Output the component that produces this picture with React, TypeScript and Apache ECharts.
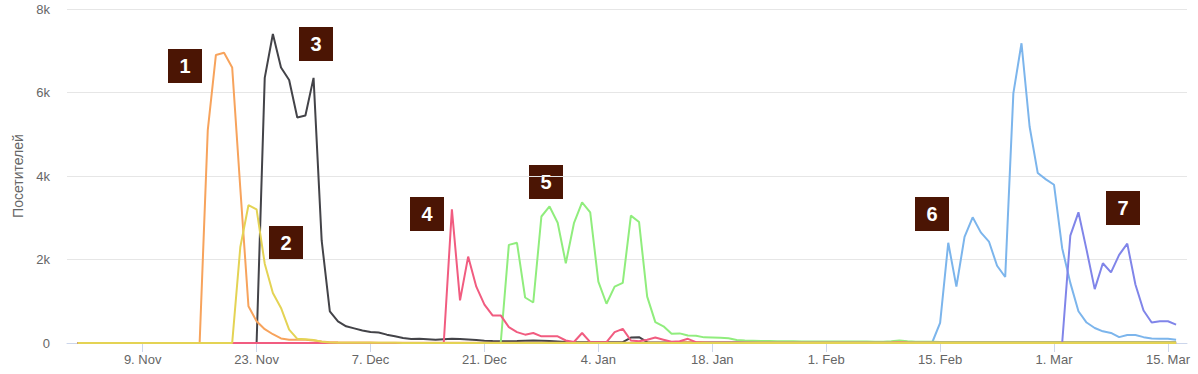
import React, { useEffect, useRef } from "react";
import * as echarts from "echarts";

// Day index 0 = 1. Nov, 135 = 16. Mar (daily values)
const tickDayIndex = [8, 22, 36, 50, 64, 78, 92, 106, 120, 134];
const tickLabels = ["9. Nov", "23. Nov", "7. Dec", "21. Dec", "4. Jan", "18. Jan", "1. Feb", "15. Feb", "1. Mar", "15. Mar"];
const yTicks = [0, 2000, 4000, 6000, 8000];
const yTickLabels = ["0", "2k", "4k", "6k", "8k"];

const series1 = [
  0, 0, 0, 0, 0, 0, 0, 0, 0, 0,
  0, 0, 0, 0, 0, 0, 5100, 6900, 6950, 6600,
  3700, 880, 520, 330, 210, 110, 80, 80, 75, 60,
  35, 20, 15, 12, 10, 10, 10, 8, 8, 8,
  8, 8, 6, 6, 6, 6, 6, 6, 6, 6,
  6, 6, 6, 6, 6, 6, 5, 5, 5, 5,
  5, 5, 5, 5, 5, 5, 5, 5, 5, 5,
  5, 5, 5, 5, 15, 20, 15, 10, 5, 5,
  5, 5, 5, 5, 5, 5, 5, 5, 5, 5,
  5, 5, 5, 5, 5, 5, 5, 5, 5, 5,
  10, 20, 10, 5, 5, 5, 5, 5, 5, 5,
  5, 5, 5, 5, 5, 5, 5, 5, 5, 5,
  5, 5, 5, 5, 5, 5, 5, 5, 5, 5,
  5, 5, 5, 5, 5, 5,
];
const series2 = [
  0, 0, 0, 0, 0, 0, 0, 0, 0, 0,
  0, 0, 0, 0, 0, 0, 0, 0, 0, 0,
  2300, 3300, 3200, 1900, 1200, 840, 320, 100, 90, 70,
  30, 10, 5, 5, 5, 5, 5, 5, 5, 5,
  0, 0, 0, 0, 0, 0, 0, 0, 0, 0,
  0, 0, 0, 0, 0, 0, 0, 0, 0, 0,
  0, 0, 0, 0, 0, 0, 0, 0, 0, 0,
  0, 0, 0, 0, 0, 0, 0, 0, 0, 0,
  0, 0, 0, 0, 0, 0, 0, 0, 0, 0,
  0, 0, 0, 0, 0, 0, 0, 0, 0, 0,
  0, 0, 0, 0, 0, 0, 0, 0, 0, 0,
  0, 0, 0, 0, 0, 0, 0, 0, 0, 0,
  0, 0, 0, 0, 0, 0, 0, 0, 0, 0,
  0, 0, 0, 0, 0, 0,
];
const series3 = [
  0, 0, 0, 0, 0, 0, 0, 0, 0, 0,
  0, 0, 0, 0, 0, 0, 0, 0, 0, 0,
  0, 0, 0, 6350, 7400, 6600, 6300, 5400, 5450, 6350,
  2450, 760, 520, 400, 350, 300, 265, 250, 200, 160,
  120, 95, 100, 90, 80, 90, 100, 95, 85, 70,
  55, 45, 40, 40, 45, 55, 60, 55, 45, 35,
  25, 20, 15, 15, 15, 15, 20, 20, 130, 140,
  20, 10, 10, 10, 10, 10, 10, 10, 10, 10,
  10, 10, 10, 10, 10, 10, 10, 10, 10, 10,
  10, 10, 10, 10, 10, 10, 10, 10, 10, 10,
  10, 10, 10, 10, 10, 10, 10, 10, 10, 10,
  10, 10, 10, 10, 10, 10, 10, 10, 10, 10,
  10, 10, 10, 10, 10, 10, 10, 10, 10, 10,
  10, 10, 10, 10, 10, 10,
];
const series4 = [
  0, 0, 0, 0, 0, 0, 0, 0, 0, 0,
  0, 0, 0, 0, 0, 0, 0, 0, 0, 0,
  0, 0, 0, 0, 0, 0, 0, 0, 0, 0,
  0, 0, 0, 0, 0, 0, 0, 0, 0, 0,
  0, 0, 0, 0, 0, 0, 3200, 1020, 2070, 1350,
  920, 660, 660, 380, 260, 200, 240, 160, 160, 160,
  60, 25, 240, 20, 20, 20, 260, 340, 60, 40,
  80, 130, 80, 30, 40, 100, 20, 5, 5, 5,
  5, 5, 5, 5, 5, 5, 5, 5, 5, 5,
  5, 5, 5, 5, 5, 5, 5, 5, 5, 5,
  5, 5, 5, 5, 5, 5, 5, 5, 5, 5,
  5, 5, 5, 5, 5, 5, 5, 5, 5, 5,
  5, 5, 5, 5, 5, 5, 5, 5, 5, 5,
  5, 5, 5, 5, 5, 5,
];
const series5 = [
  0, 0, 0, 0, 0, 0, 0, 0, 0, 0,
  0, 0, 0, 0, 0, 0, 0, 0, 0, 0,
  0, 0, 0, 0, 0, 0, 0, 0, 0, 0,
  0, 0, 0, 0, 0, 0, 0, 0, 0, 0,
  0, 0, 0, 0, 0, 0, 0, 0, 0, 0,
  0, 0, 0, 2350, 2400, 1090, 970, 3030, 3270, 2880,
  1910, 2870, 3370, 3130, 1470, 940, 1350, 1440, 3050, 2900,
  1110, 500, 400, 220, 230, 180, 175, 135, 130, 125,
  115, 70, 60, 55, 50, 45, 40, 40, 40, 38,
  38, 36, 35, 35, 35, 34, 33, 33, 32, 32,
  40, 60, 40, 30, 30, 28, 25, 25, 25, 25,
  25, 25, 25, 25, 25, 25, 25, 25, 25, 25,
  25, 25, 25, 25, 25, 25, 25, 25, 25, 25,
  25, 25, 25, 25, 25, 25,
];
const series6 = [
  0, 0, 0, 0, 0, 0, 0, 0, 0, 0,
  0, 0, 0, 0, 0, 0, 0, 0, 0, 0,
  0, 0, 0, 0, 0, 0, 0, 0, 0, 0,
  0, 0, 0, 0, 0, 0, 0, 0, 0, 0,
  0, 0, 0, 0, 0, 0, 0, 0, 0, 0,
  0, 0, 0, 0, 0, 0, 0, 0, 0, 0,
  0, 0, 0, 0, 0, 0, 0, 0, 0, 0,
  0, 0, 0, 0, 0, 0, 0, 0, 0, 0,
  0, 0, 0, 0, 0, 0, 0, 0, 0, 0,
  0, 0, 0, 0, 0, 0, 0, 0, 0, 0,
  0, 0, 0, 0, 0, 0, 480, 2400, 1350, 2540,
  3010, 2650, 2430, 1850, 1580, 5980, 7180, 5180, 4070, 3920,
  3790, 2270, 1440, 760, 490, 360, 280, 240, 140, 190,
  190, 140, 110, 100, 100, 80,
];
const series7 = [
  0, 0, 0, 0, 0, 0, 0, 0, 0, 0,
  0, 0, 0, 0, 0, 0, 0, 0, 0, 0,
  0, 0, 0, 0, 0, 0, 0, 0, 0, 0,
  0, 0, 0, 0, 0, 0, 0, 0, 0, 0,
  0, 0, 0, 0, 0, 0, 0, 0, 0, 0,
  0, 0, 0, 0, 0, 0, 0, 0, 0, 0,
  0, 0, 0, 0, 0, 0, 0, 0, 0, 0,
  0, 0, 0, 0, 0, 0, 0, 0, 0, 0,
  0, 0, 0, 0, 0, 0, 0, 0, 0, 0,
  0, 0, 0, 0, 0, 0, 0, 0, 0, 0,
  0, 0, 0, 0, 0, 0, 0, 0, 0, 0,
  0, 0, 0, 0, 0, 0, 0, 0, 0, 0,
  0, 0, 2570, 3130, 2230, 1290, 1910, 1690, 2110, 2380,
  1400, 780, 490, 520, 520, 440,
];

// Drawing order (bottom to top) with colours
const seriesList = [
  { name: "6", values: series6, color: "#7cb5ec" },
  { name: "3", values: series3, color: "#434348" },
  { name: "5", values: series5, color: "#90ed7d" },
  { name: "1", values: series1, color: "#f7a35c" },
  { name: "7", values: series7, color: "#8085e9" },
  { name: "4", values: series4, color: "#f15c80" },
  { name: "2", values: series2, color: "#e4d354" },
];

// Annotation labels (layout)
const annotationLabels = ["1", "2", "3", "4", "5", "6", "7"];
const annotationPos = [
  [168, 49], [269, 226], [299, 27], [410, 197], [529, 165], [915, 197], [1106, 191],
];

const FONT = "'Liberation Sans', Arial, Helvetica, sans-serif";

export default function App() {
  const ref = useRef<HTMLDivElement>(null);
  useEffect(() => {
    if (!ref.current) return;
    const chart = echarts.init(ref.current, null, { renderer: "svg" });
    const option = {
      animation: false,
      backgroundColor: "#ffffff",
      textStyle: { fontFamily: FONT },
      grid: { left: 67, right: 11, top: 9, bottom: 31, containLabel: false },
      xAxis: {
        type: "value",
        min: -1.3,
        max: 136.34,
        splitLine: { show: false },
        axisLine: { show: true, lineStyle: { color: "#ccd6eb", width: 1 } },
        axisTick: {
          show: true,
          length: 9,
          customValues: tickDayIndex,
          lineStyle: { color: "#ccd6eb", width: 1 },
        },
        axisLabel: {
          customValues: tickDayIndex,
          color: "#666666",
          fontSize: 13,
          fontFamily: FONT,
          margin: 10,
          formatter: (v: number) => tickLabels[tickDayIndex.indexOf(Math.round(v))] ?? "",
        },
      },
      yAxis: {
        type: "value",
        min: 0,
        max: 8000,
        interval: 2000,
        name: "Посетителей",
        nameLocation: "middle",
        nameGap: 41,
        nameTextStyle: { color: "#666666", fontSize: 14, fontFamily: FONT },
        axisLine: { show: false },
        axisTick: { show: false },
        splitLine: { lineStyle: { color: "#e6e6e6", width: 1 } },
        axisLabel: {
          color: "#666666",
          fontSize: 13,
          fontFamily: FONT,
          margin: 17,
          formatter: (v: number) => yTickLabels[yTicks.indexOf(v)] ?? "",
        },
      },
      series: seriesList.map((s) => ({
        type: "line",
        name: s.name,
        data: s.values.map((v, i) => [i, v]),
        showSymbol: false,
        symbol: "none",
        lineStyle: { color: s.color, width: 2 },
        itemStyle: { color: s.color },
      })),
      graphic: annotationLabels.map((label, k) => ({
        type: "group",
        x: annotationPos[k][0],
        y: annotationPos[k][1],
        children: [
          { type: "rect", shape: { x: 0, y: 0, width: 34, height: 34 }, style: { fill: "#4b1504" } },
          {
            type: "text",
            x: 17,
            y: 17,
            style: {
              text: label,
              fill: "#ffffff",
              font: `bold 20px ${FONT}`,
              textAlign: "center",
              textVerticalAlign: "middle",
            },
          },
        ],
      })),
    };
    chart.setOption(option as any);
    return () => chart.dispose();
  }, []);
  return (
    <div
      ref={ref}
      style={{ position: "fixed", left: 0, top: 0, width: 1198, height: 374, background: "#fff" }}
    />
  );
}
